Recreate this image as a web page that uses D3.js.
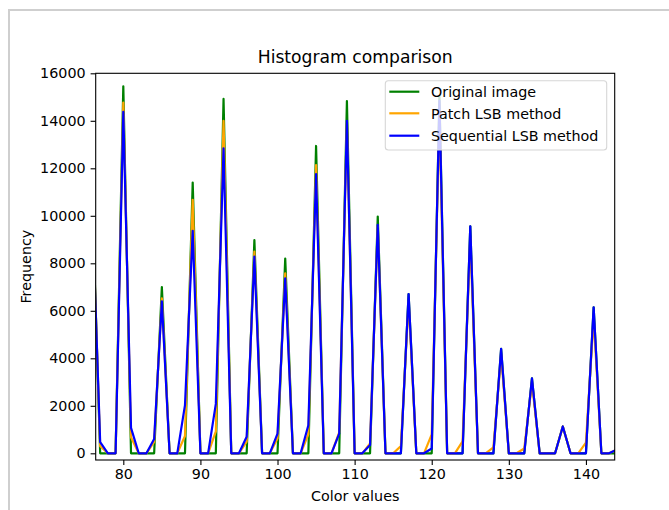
<!DOCTYPE html>
<html>
<head>
<meta charset="utf-8">
<script src="https://cdn.jsdelivr.net/npm/d3@7"></script>
<style>
  html, body { margin: 0; padding: 0; background: #fff; }
  svg { display: block; }
  text { font-family: "DejaVu Sans", sans-serif; fill: #000; }
</style>
</head>
<body>
<svg id="chart" width="669" height="510"></svg>
<script>
// ---- data ----
const colorValues = d3.range(76, 145);
const original = [10470,0,0,0,15450,0,0,0,0,7000,0,0,0,11400,0,0,0,14920,0,0,0,8980,0,0,0,8200,0,0,0,12940,0,0,0,14830,0,0,0,9970,0,0,0,6700,0,0,0,15050,0,0,0,9560,0,0,0,4400,0,0,0,3160,0,0,0,1130,0,0,0,6150,0,0,0];
const patchLSB = [10170,300,0,0,14770,680,0,0,480,6520,0,0,730,10670,0,0,920,14000,0,0,490,8490,0,0,620,7580,0,0,800,12140,0,0,880,13950,0,0,420,9550,0,0,300,6400,0,0,800,14250,0,0,500,9060,0,0,250,4150,0,0,200,2960,0,0,0,1130,0,0,450,5700,0,0,150];
const sequentialLSB = [10000,470,0,0,14380,1070,0,0,600,6400,0,0,2030,9370,0,0,2080,12840,0,0,700,8280,0,0,830,7370,0,0,1180,11760,0,0,830,14000,0,0,350,9620,0,0,0,6700,0,0,200,14850,0,0,0,9560,0,0,0,4400,0,0,0,3160,0,0,0,1130,0,0,0,6150,0,0,150];
const seriesNames = ["Original image", "Patch LSB method", "Sequential LSB method"];
const seriesColors = ["green", "orange", "blue"];
const yTicks = [0, 2000, 4000, 6000, 8000, 10000, 12000, 14000, 16000];
const xTicks = [80, 90, 100, 110, 120, 130, 140];

// ---- layout ----
const svg = d3.select("#chart");
const W = 669, H = 510;
const axL = 95.7, axR = 614.7, axT = 73.3, axB = 460;

svg.append("rect").attr("width", W).attr("height", H).attr("fill", "#fff");
// screenshot frame
svg.append("path").attr("d", `M9,${H} V10 H${W}`).attr("fill", "none")
  .attr("stroke", "#cfcfcf").attr("stroke-width", 2);

const x = d3.scaleLinear().domain([76.42, 143.73]).range([axL, axR]);
const y = d3.scaleLinear().domain([-282, 16000]).range([axB, axT]);

svg.append("clipPath").attr("id", "clip").append("rect")
  .attr("x", axL).attr("y", axT).attr("width", axR - axL).attr("height", axB - axT);

const seriesData = [original, patchLSB, sequentialLSB];
const line = d3.line().x((d, i) => x(colorValues[i])).y(d => y(d));
const g = svg.append("g").attr("clip-path", "url(#clip)");
seriesData.forEach((s, k) => {
  g.append("path").datum(s).attr("d", line).attr("fill", "none")
    .attr("stroke", seriesColors[k]).attr("stroke-width", 2.2)
    .attr("stroke-linejoin", "round").attr("stroke-linecap", "square");
});

// axes
const fs = 14.3;
const xAxis = svg.append("g").attr("transform", `translate(0,${axB})`)
  .call(d3.axisBottom(x).tickValues(xTicks).tickFormat(d3.format("d")).tickSize(5.1).tickPadding(4));
const yAxis = svg.append("g").attr("transform", `translate(${axL},0)`)
  .call(d3.axisLeft(y).tickValues(yTicks).tickFormat(d3.format("d")).tickSize(5.1).tickPadding(5));
[xAxis, yAxis].forEach(a => {
  a.select(".domain").remove();
  a.selectAll("line").attr("stroke", "#000").attr("stroke-width", 1.1);
  a.selectAll("text").style("font-family", '"DejaVu Sans", sans-serif').style("font-size", fs + "px").attr("fill", "#000");
});

// spines
svg.append("rect").attr("x", axL).attr("y", axT).attr("width", axR - axL).attr("height", axB - axT)
  .attr("fill", "none").attr("stroke", "#000").attr("stroke-width", 1.1);

// title & labels
svg.append("text").attr("x", (axL + axR) / 2).attr("y", 63).attr("text-anchor", "middle")
  .style("font-size", "17.2px").text("Histogram comparison");
svg.append("text").attr("x", (axL + axR) / 2).attr("y", 501).attr("text-anchor", "middle")
  .style("font-size", fs + "px").text("Color values");
svg.append("text").attr("transform", `translate(31,${(axT + axB) / 2}) rotate(-90)`).attr("text-anchor", "middle")
  .style("font-size", fs + "px").text("Frequency");

// legend
const lg = svg.append("g");
lg.append("rect").attr("x", 385.3).attr("y", 80.7).attr("width", 606.7 - 385.3).attr("height", 150 - 80.7)
  .attr("rx", 3).attr("fill", "#fff").attr("fill-opacity", 0.8)
  .attr("stroke", "#d6d6d6").attr("stroke-width", 1.1);
const rowsY = [91.7, 113.3, 135.7];
seriesNames.forEach((n, k) => {
  lg.append("line").attr("x1", 389.3).attr("x2", 419.3).attr("y1", rowsY[k]).attr("y2", rowsY[k])
    .attr("stroke", seriesColors[k]).attr("stroke-width", 2.2);
  lg.append("text").attr("x", 431).attr("y", rowsY[k] + 5.2).style("font-size", fs + "px").text(n);
});
</script>
</body>
</html>
